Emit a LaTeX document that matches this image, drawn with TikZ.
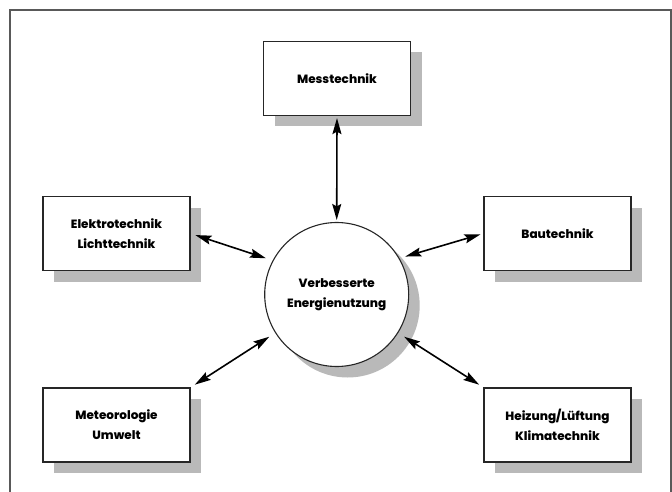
\documentclass[tikz,border=0pt]{standalone}
\usepackage{fontspec}
\IfFontExistsTF{Poppins ExtraBold}
  {\setmainfont{Poppins}[BoldFont={Poppins ExtraBold}]}
  {\setmainfont{Poppins}}
\usetikzlibrary{shadows,arrows.meta}

\begin{document}
\begin{tikzpicture}[x=1pt, y=-1pt, thick,
  field/.style={shape=rectangle, draw=black!85, fill=white, line width=1.2pt,
    minimum width=147pt, minimum height=74pt, align=center,
    font=\fontsize{12}{20}\selectfont\bfseries,
    general shadow={fill=gray!55, shadow xshift=11pt, shadow yshift=-11pt}},
  hub/.style={shape=circle, draw=black!85, fill=white, line width=1.1pt,
    minimum size=144pt, inner sep=0pt, align=center,
    font=\fontsize{12}{20}\selectfont\bfseries,
    general shadow={fill=gray!55, shadow xshift=11pt, shadow yshift=-11pt}},
  link/.style={{Stealth[length=16pt,width=9pt,inset=2.5pt]}-{Stealth[length=16pt,width=9pt,inset=2.5pt]}, line width=1.6pt}]
\useasboundingbox (0,0) rectangle (672,492);

%%%%%%%%%%%%%%%%%%%%%%%%%%%%%%%%%%%%%%%%%%% frame
\draw[gray!70!black, line width=1.3pt] (10,494) -- (10,10) -- (671,10) -- (671,494);

%%%%%%%%%%%%%%%%%%%%%%%%%%%%%%%%%%%%%%%%%%% elements
\node[hub](verb) at (336.7,294.5){Verbesserte\\Energienutzung};
\node[field](mess) at (337,78.5){Messtechnik};
\node[field](elektro) at (116.5,233.5){Elektrotechnik\\Lichttechnik};
\node[field](bau) at (557.5,233.5){Bautechnik};
\node[field](meteo) at (116.5,425){Meteorologie\\Umwelt};
\node[field](heizung) at (557.5,425){Heizung/Lüftung\\Klimatechnik};

%%%%% links
\draw[link, shorten <=2pt, shorten >=2pt] (mess.south) -- (verb.north);
\draw[link, shorten <=5pt, shorten >=7pt] (elektro.east) -- (verb.152);
\draw[link, shorten <=3pt, shorten >=6pt] (bau.west) -- (verb.30);
\draw[link, shorten <=5pt, shorten >=7pt] (meteo.north east) -- (verb.212);
\draw[link, shorten <=7pt, shorten >=5pt] (verb.-32) -- (heizung.north west);
\end{tikzpicture}
\end{document}
